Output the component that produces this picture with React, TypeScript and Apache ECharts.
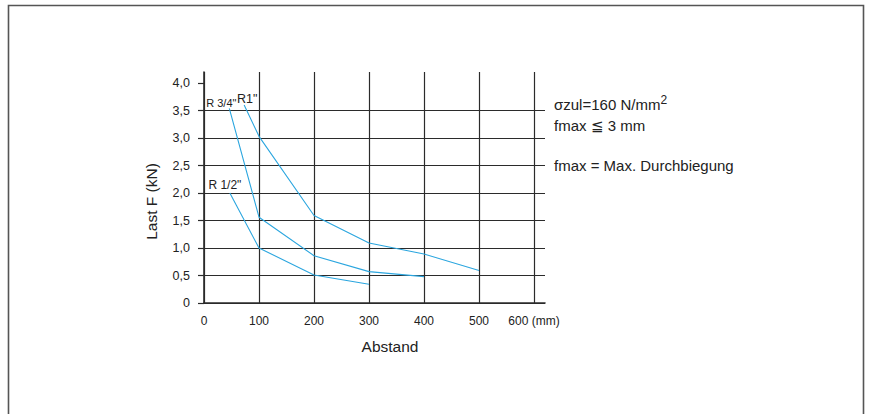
import React, { useEffect, useRef } from "react";
import * as echarts from "echarts";

const xTicks = [0, 100, 200, 300, 400, 500, 600];
const yTicks = [0, 0.5, 1.0, 1.5, 2.0, 2.5, 3.0, 3.5, 4.0];

const seriesNames = ['R1"', 'R 3/4"', 'R 1/2"'];
const r1X = [73, 100, 200, 300, 400, 500];
const r1Y = [3.6, 3.03, 1.59, 1.09, 0.89, 0.59];
const r34X = [46, 100, 200, 300, 400];
const r34Y = [3.54, 1.56, 0.86, 0.57, 0.48];
const r12X = [47, 100, 200, 300];
const r12Y = [2.0, 1.0, 0.51, 0.34];

const labelOffsets: Record<string, number[]> = {
  'R1"': [3, -6],
  'R 3/4"': [-8, -5],
  'R 1/2"': [-5, -8],
};
const labelSizes: Record<string, number> = { 'R1"': 12.5, 'R 3/4"': 11, 'R 1/2"': 12 };

const LINE_COLOR = "#2ba6df";
const GRID_COLOR = "#2b2b2b";
const TEXT_COLOR = "#222";
const FONT = "'Liberation Sans', Arial, Helvetica, sans-serif";

function buildSeries(name: string, xs: number[], ys: number[]) {
  return {
    type: "line",
    name,
    symbol: "circle",
    symbolSize: 0.01,
    showSymbol: true,
    itemStyle: { color: LINE_COLOR },
    lineStyle: { color: LINE_COLOR, width: 1.1 },
    data: xs.map((x, i) =>
      i === 0
        ? {
            value: [x, ys[i]],
            label: {
              show: true,
              position: "inside",
              offset: labelOffsets[name],
              formatter: name,
              color: TEXT_COLOR,
              fontSize: labelSizes[name],
              fontFamily: FONT,
              align: "center",
              verticalAlign: "middle",
            },
          }
        : { value: [x, ys[i]] }
    ),
    emphasis: { disabled: true },
  };
}

function fmtY(v: number) {
  return v === 0 ? "0" : v.toFixed(1).replace(".", ",");
}

export default function App() {
  const ref = useRef<HTMLDivElement>(null);
  useEffect(() => {
    document.body.style.margin = "0";
    const chart = echarts.init(ref.current!, null, { renderer: "svg" });
    chart.setOption({
      animation: false,
      backgroundColor: "#fff",
      textStyle: { fontFamily: FONT },
      grid: { left: 204, right: 327, top: 72, bottom: 111, containLabel: false },
      xAxis: {
        type: "value",
        min: 0,
        max: 620,
        interval: 100,
        name: "Abstand",
        nameLocation: "middle",
        nameGap: 35,
        nameTextStyle: { fontSize: 15.5, color: TEXT_COLOR, fontFamily: FONT, padding: [0, 0, 0, 31] },
        axisLine: { show: true, onZero: false, lineStyle: { color: GRID_COLOR, width: 1.6 } },
        axisTick: { show: false },
        axisLabel: {
          customValues: xTicks,
          margin: 12,
          fontSize: 12,
          color: TEXT_COLOR,
          fontFamily: FONT,
          formatter: (v: number) => (v === 600 ? "600 (mm)" : String(v)),
        },
        splitLine: { show: true, showMaxLine: false, lineStyle: { color: GRID_COLOR, width: 1.2 } },
      },
      yAxis: {
        type: "value",
        min: 0,
        max: 4.2,
        interval: 0.5,
        name: "Last F (kN)",
        nameLocation: "middle",
        nameRotate: 90,
        nameGap: 45,
        nameTextStyle: { fontSize: 15.5, color: TEXT_COLOR, fontFamily: FONT, padding: [0, 28, 0, 0] },
        axisLine: { show: true, onZero: false, lineStyle: { color: GRID_COLOR, width: 1.6 } },
        axisTick: { show: true, customValues: yTicks, length: 6, lineStyle: { color: GRID_COLOR, width: 1.2 } },
        axisLabel: {
          customValues: yTicks,
          margin: 14,
          fontSize: 12.5,
          color: TEXT_COLOR,
          fontFamily: FONT,
          formatter: fmtY,
        },
        splitLine: { show: true, showMaxLine: false, lineStyle: { color: GRID_COLOR, width: 1.2 } },
      },
      series: [
        buildSeries(seriesNames[0], r1X, r1Y),
        buildSeries(seriesNames[1], r34X, r34Y),
        buildSeries(seriesNames[2], r12X, r12Y),
      ],
      graphic: [
        {
          type: "rect",
          shape: { x: 8.5, y: 5.5, width: 855, height: 430 },
          style: { fill: "none", stroke: "#555", lineWidth: 1.6 },
          silent: true,
        },
        {
          type: "text",
          x: 554,
          y: 104,
          style: {
            text: "σzul=160 N/mm{sup|2}",
            fontSize: 15,
            fontFamily: FONT,
            fill: TEXT_COLOR,
            verticalAlign: "middle",
            rich: { sup: { fontSize: 12, verticalAlign: "top", padding: [0, 0, 8, 0], fontFamily: FONT } },
          },
        },
        {
          type: "text",
          x: 554,
          y: 125,
          style: { text: "fmax ≦ 3 mm", fontSize: 15, fontFamily: FONT, fill: TEXT_COLOR, verticalAlign: "middle" },
        },
        {
          type: "text",
          x: 554,
          y: 165,
          style: {
            text: "fmax = Max. Durchbiegung",
            fontSize: 15,
            fontFamily: FONT,
            fill: TEXT_COLOR,
            verticalAlign: "middle",
          },
        },
      ],
    });
    return () => chart.dispose();
  }, []);
  return <div ref={ref} style={{ position: "absolute", left: 0, top: 0, width: 872, height: 414 }} />;
}
